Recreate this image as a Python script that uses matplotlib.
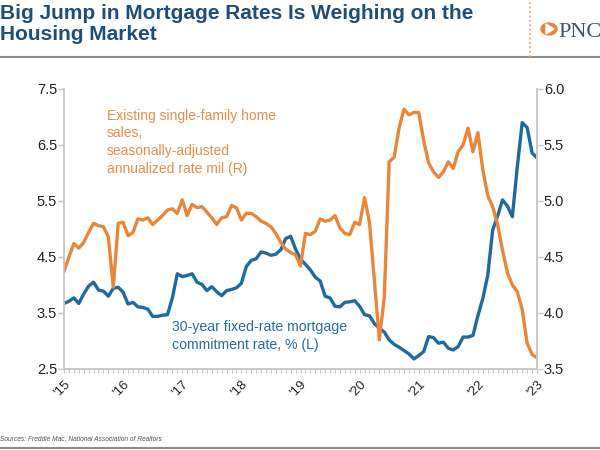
import numpy as np
import matplotlib.pyplot as plt
from matplotlib.lines import Line2D
from matplotlib.patches import Circle, Polygon

plt.rcParams['font.family'] = ['Liberation Sans', 'DejaVu Sans']

# 30-year fixed mortgage rate, %, monthly Jan 2015 - Jan 2023 (left axis)
mortgage = [3.67, 3.71, 3.77, 3.67, 3.84, 3.98, 4.05, 3.91, 3.89, 3.80, 3.94, 3.96,
            3.87, 3.66, 3.69, 3.61, 3.60, 3.57, 3.44, 3.44, 3.46, 3.47, 3.77, 4.20,
            4.15, 4.17, 4.20, 4.05, 4.01, 3.90, 3.97, 3.88, 3.81, 3.90, 3.92, 3.95,
            4.03, 4.33, 4.44, 4.47, 4.59, 4.57, 4.53, 4.55, 4.63, 4.83, 4.87, 4.64,
            4.46, 4.37, 4.27, 4.14, 4.07, 3.80, 3.77, 3.62, 3.61, 3.69, 3.70, 3.72,
            3.62, 3.47, 3.45, 3.31, 3.23, 3.16, 3.02, 2.94, 2.89, 2.83, 2.77, 2.68,
            2.74, 2.81, 3.08, 3.06, 2.96, 2.98, 2.87, 2.84, 2.90, 3.07, 3.07, 3.10,
            3.45, 3.76, 4.17, 4.98, 5.23, 5.52, 5.41, 5.22, 6.11, 6.90, 6.81, 6.36,
            6.27]

# existing single-family home sales, SAAR mil (right axis)
home_sales = [4.37, 4.50, 4.62, 4.58, 4.63, 4.72, 4.80, 4.78, 4.77, 4.68, 4.23, 4.80,
              4.81, 4.69, 4.72, 4.84, 4.83, 4.85, 4.79, 4.83, 4.87, 4.92, 4.93, 4.89,
              5.01, 4.87, 4.97, 4.94, 4.95, 4.90, 4.85, 4.79, 4.85, 4.86, 4.96, 4.94,
              4.83, 4.89, 4.89, 4.86, 4.82, 4.80, 4.77, 4.71, 4.63, 4.57, 4.54, 4.52,
              4.42, 4.71, 4.70, 4.73, 4.84, 4.82, 4.83, 4.87, 4.76, 4.71, 4.70, 4.81,
              4.79, 5.03, 4.81, 4.29, 3.76, 4.14, 5.35, 5.39, 5.65, 5.82, 5.77, 5.79,
              5.79, 5.54, 5.34, 5.26, 5.21, 5.26, 5.35, 5.29, 5.44, 5.50, 5.65, 5.44,
              5.61, 5.28, 5.05, 4.95, 4.79, 4.56, 4.36, 4.25, 4.19, 4.03, 3.73, 3.63,
              3.60]

year_labels = ["'15", "'16", "'17", "'18", "'19", "'20", "'21", "'22", "'23"]
months = 2015 + np.arange(len(mortgage)) / 12

blue = '#1f6a9e'
orange = '#e8863a'
navy = '#1f4e79'
grey = '#c8c8c8'

fig = plt.figure(figsize=(6, 4.5), dpi=100)
ax = fig.add_axes([64 / 600, 1 - 369 / 450, 473 / 600, 280 / 450])
ax2 = ax.twinx()

ax.plot(months, mortgage, color=blue, lw=2.4, solid_capstyle='round')
ax2.plot(months, home_sales, color=orange, lw=2.4, solid_capstyle='round')

ax.set_xlim(2015, 2023)
ax.set_ylim(2.5, 7.5)
ax2.set_ylim(3.5, 6.0)

ax.set_yticks([2.5, 3.5, 4.5, 5.5, 6.5, 7.5])
ax.set_yticklabels(['%.1f' % v for v in [2.5, 3.5, 4.5, 5.5, 6.5, 7.5]])
ax2.set_yticks(np.arange(3.5, 6.01, 0.5))
ax2.set_yticklabels(['%.1f' % v for v in np.arange(3.5, 6.01, 0.5)])

ax.set_xticks(range(2015, 2024))
ax.set_xticklabels(year_labels, rotation=45, ha='right', va='top', rotation_mode='anchor')
ax.set_xticks(months, minor=True)

for a in (ax, ax2):
    a.spines['top'].set_visible(False)
    for s in ('left', 'right', 'bottom'):
        a.spines[s].set_color(grey)
        a.spines[s].set_linewidth(1.2)
    a.tick_params(axis='y', length=4, width=1, color=grey, labelsize=10.5, labelcolor='#222222', pad=1)
ax.tick_params(axis='x', which='both', length=3, width=0.8, color=grey, labelsize=9.5,
               labelcolor='#222222', pad=4)

ax.text(0.091, 0.93, 'Existing single-family home\nsales,\nseasonally-adjusted\nannualized rate mil (R)',
        transform=ax.transAxes, color='#e08f4c', fontsize=10, va='top', ha='left', linespacing=1.35)
ax.text(0.228, 0.175, '30-year fixed-rate mortgage\ncommitment rate, % (L)',
        transform=ax.transAxes, color='#2a6ca0', fontsize=10.2, va='top', ha='left', linespacing=1.35)

# header
fig.text(0.0, 1 - 4 / 450, 'Big Jump in Mortgage Rates Is Weighing on the\nHousing Market',
         fontsize=15, fontweight='bold', color=navy, va='top', ha='left', linespacing=1.1)
fig.add_artist(Line2D([0, 1], [1 - 57 / 450] * 2, color='#8c8c8c', lw=1.5))
fig.add_artist(Line2D([530 / 600] * 2, [1 - 57 / 450, 1], color='#e8a060', lw=1.2, ls=':'))
fig.add_artist(Circle((549 / 600, 1 - 29 / 450), 8 / 600, color=orange, transform=fig.transFigure))
fig.add_artist(Polygon([[546 / 600, 1 - 24 / 450], [554 / 600, 1 - 29 / 450], [546 / 600, 1 - 34 / 450]],
                       closed=True, color='white', transform=fig.transFigure))
fig.text(558 / 600, 1 - 37 / 450, 'PNC', fontsize=16, family='Liberation Serif', color='#44546a',
         va='baseline', ha='left')

# footer
fig.text(0.0, 1 - 440 / 450, 'Sources: Freddie Mac, National Association of Realtors',
         fontsize=4.8, style='italic', color='#555555', va='baseline', ha='left')
fig.add_artist(Line2D([0, 1], [1 - 448 / 450] * 2, color='#8c8c8c', lw=1.5))

fig.savefig('out.png', dpi=100)
